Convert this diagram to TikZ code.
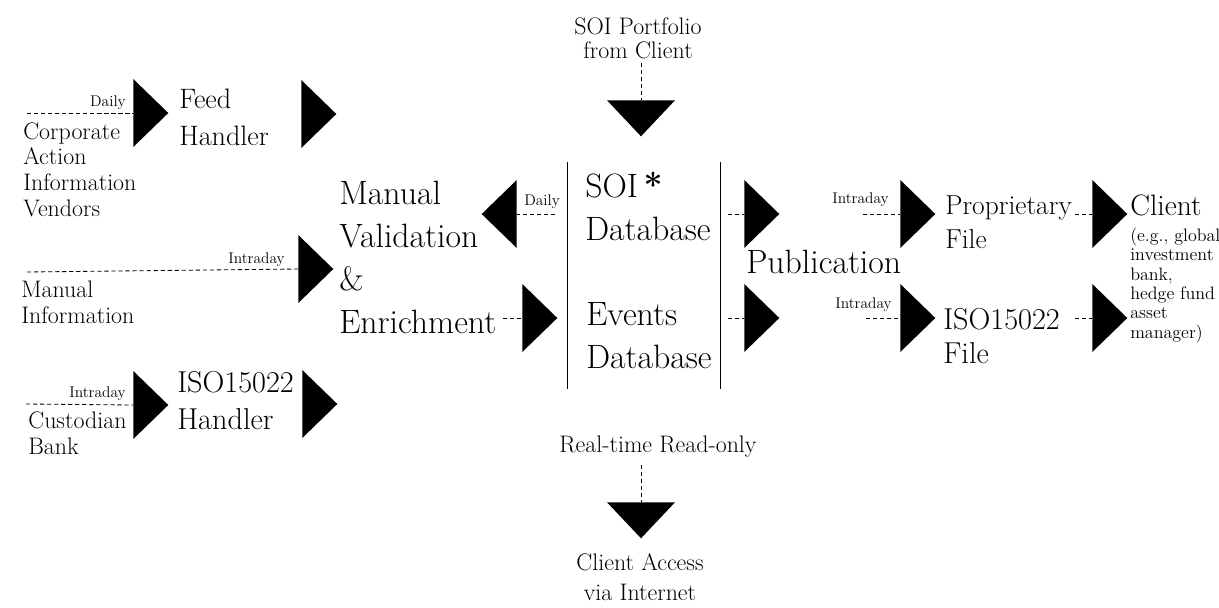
\documentclass[tikz,border=0pt]{standalone}
\usepackage{fontspec}
\usetikzlibrary{shapes.geometric,positioning}

\begin{document}
\begin{tikzpicture}[x=0.025cm,y=-0.025cm,
    tri/.style={isosceles triangle, isosceles triangle stretches, fill=black,
      inner sep=0pt, minimum width=1.7cm, minimum height=0.875cm, anchor=lower side},
    trileft/.style={tri, shape border rotate=180},
    tridown/.style={tri, shape border rotate=270, minimum height=0.9cm},
    feed/.style={dash pattern=on 3pt off 2pt, line width=0.6pt},
    wall/.style={line width=0.6pt},
    bigtxt/.style={inner sep=0pt, align=left, anchor=base west, font=\fontsize{24}{30.5}\selectfont},
    midtxt/.style={inner sep=0pt, align=left, anchor=base west, font=\fontsize{20}{26}\selectfont},
    srctxt/.style={inner sep=0pt, align=left, anchor=base west, font=\fontsize{17}{18.2}\selectfont},
    freqtxt/.style={inner sep=0pt, anchor=base east, font=\fontsize{11}{13}\selectfont},
    notetxt/.style={inner sep=0pt, align=left, anchor=base west, font=\fontsize{12.8}{13.7}\selectfont}]
  \useasboundingbox (0,0) rectangle (1219,607);

  % sources on the left (anchored at the last line)
  \node[srctxt] (vendors)   at (23,216)  {Corporate\\Action\\Information\\Vendors};
  \node[srctxt] (manualsrc) at (21,323)  {Manual\\Information};
  \node[srctxt] (custodian) at (28,454)  {Custodian\\Bank};
  \node[freqtxt] (daily1)   at (126,106) {Daily};
  \node[freqtxt] (intra1)   at (285,263) {Intraday};
  \node[freqtxt] (intra2)   at (126,397) {Intraday};

  \node[tri] (feedin)  at (133,113) {};
  \node[tri] (feedout) at (301,114) {};
  \node[tri] (manin)   at (298,269) {};
  \node[tri] (isoin)   at (133,405) {};
  \node[tri] (isoout)  at (302,404) {};

  \node[midtxt] (feedtxt)    at (179,145) {Feed\\Handler};
  \node[midtxt, font=\fontsize{21.5}{26}\selectfont] (isohandler) at (177,429) {ISO15022\\Handler};

  \coordinate (vendend) at (27,113);
  \coordinate (manend)  at (27,272);
  \coordinate (custend) at (26,404);
  \draw[feed] (vendend) -- (feedin.lower side);
  \draw[feed] (manend)  -- (manin.lower side);
  \draw[feed] (custend) -- (isoin.lower side);

  % validation and databases
  \node[bigtxt] (validation) at (339,333) {Manual\\Validation\\\&\\Enrichment};
  \node[freqtxt, anchor=base west] (daily2) at (524,205) {Daily};
  \node[trileft] (dailytri) at (517,214) {};
  \node[tri]     (enrtri)   at (522,318) {};
  \coordinate (dailyend) at (555,214);
  \coordinate (enrend)   at (503,318);
  \draw[feed] (dailyend) -- (dailytri.lower side);
  \draw[feed] (enrend)   -- (enrtri.lower side);

  \coordinate (wallatop) at (567,162);
  \coordinate (wallabot) at (567,389);
  \coordinate (wallbtop) at (720,162);
  \coordinate (wallbbot) at (720,389);
  \draw[wall] (wallatop) -- (wallabot);
  \draw[wall] (wallbtop) -- (wallbbot);

  \node[bigtxt] (soidb)    at (585,240) {SOI\,\textbf{*}\\Database};
  \node[bigtxt] (eventsdb) at (586,368) {Events\\Database};

  \node[tri] (soitri) at (744,214) {};
  \node[tri] (evtri)  at (744,318) {};
  \coordinate (soiend) at (728,214);
  \coordinate (evend)  at (728,318);
  \draw[feed] (soiend) -- (soitri.lower side);
  \draw[feed] (evend)  -- (evtri.lower side);

  % publication
  \node[bigtxt] (publication) at (746,273) {Publication};
  \node[freqtxt] (intra3) at (889,203) {Intraday};
  \node[freqtxt] (intra4) at (892,308) {Intraday};
  \node[tri] (proptri) at (900,214) {};
  \node[tri] (isoftri) at (900,318) {};
  \coordinate (propend) at (863,214);
  \coordinate (isofend) at (866,318);
  \draw[feed] (propend) -- (proptri.lower side);
  \draw[feed] (isofend) -- (isoftri.lower side);

  \node[midtxt, font=\fontsize{19.5}{23.5}\selectfont] (propfile) at (945,248) {Proprietary\\File};
  \node[midtxt, font=\fontsize{21.5}{23.5}\selectfont] (isofile)  at (943,363) {ISO15022\\File};

  \node[tri] (clitri1) at (1092,214) {};
  \node[tri] (clitri2) at (1092,318) {};
  \coordinate (clientend1) at (1075,214);
  \coordinate (clientend2) at (1075,318);
  \draw[feed] (clientend1) -- (clitri1.lower side);
  \draw[feed] (clientend2) -- (clitri2.lower side);

  \node[midtxt, font=\fontsize{21}{26}\selectfont] (client) at (1130,215) {Client};
  \node[notetxt] (clientnote) at (1130,338)
    {(e.g., global\\investment\\bank,\\hedge fund\\asset\\manager)};

  % portfolio in, web access out
  \node[srctxt, align=center, anchor=base, font=\fontsize{17}{17}\selectfont]
    (portfolio) at (638,58) {SOI Portfolio\\from Client};
  \node[tridown] (portri) at (641,100) {};
  \coordinate (portend) at (641,63);
  \draw[feed] (portend) -- (portri.lower side);

  \node[srctxt, anchor=base] (realtime) at (658,452) {Real-time Read-only};
  \node[tridown] (webtri) at (641,502) {};
  \coordinate (webend) at (641,465);
  \draw[feed] (webend) -- (webtri.lower side);
  \node[srctxt, align=center, anchor=base, font=\fontsize{17}{21}\selectfont]
    (access) at (640,600) {Client Access\\via Internet};
\end{tikzpicture}
\end{document}
